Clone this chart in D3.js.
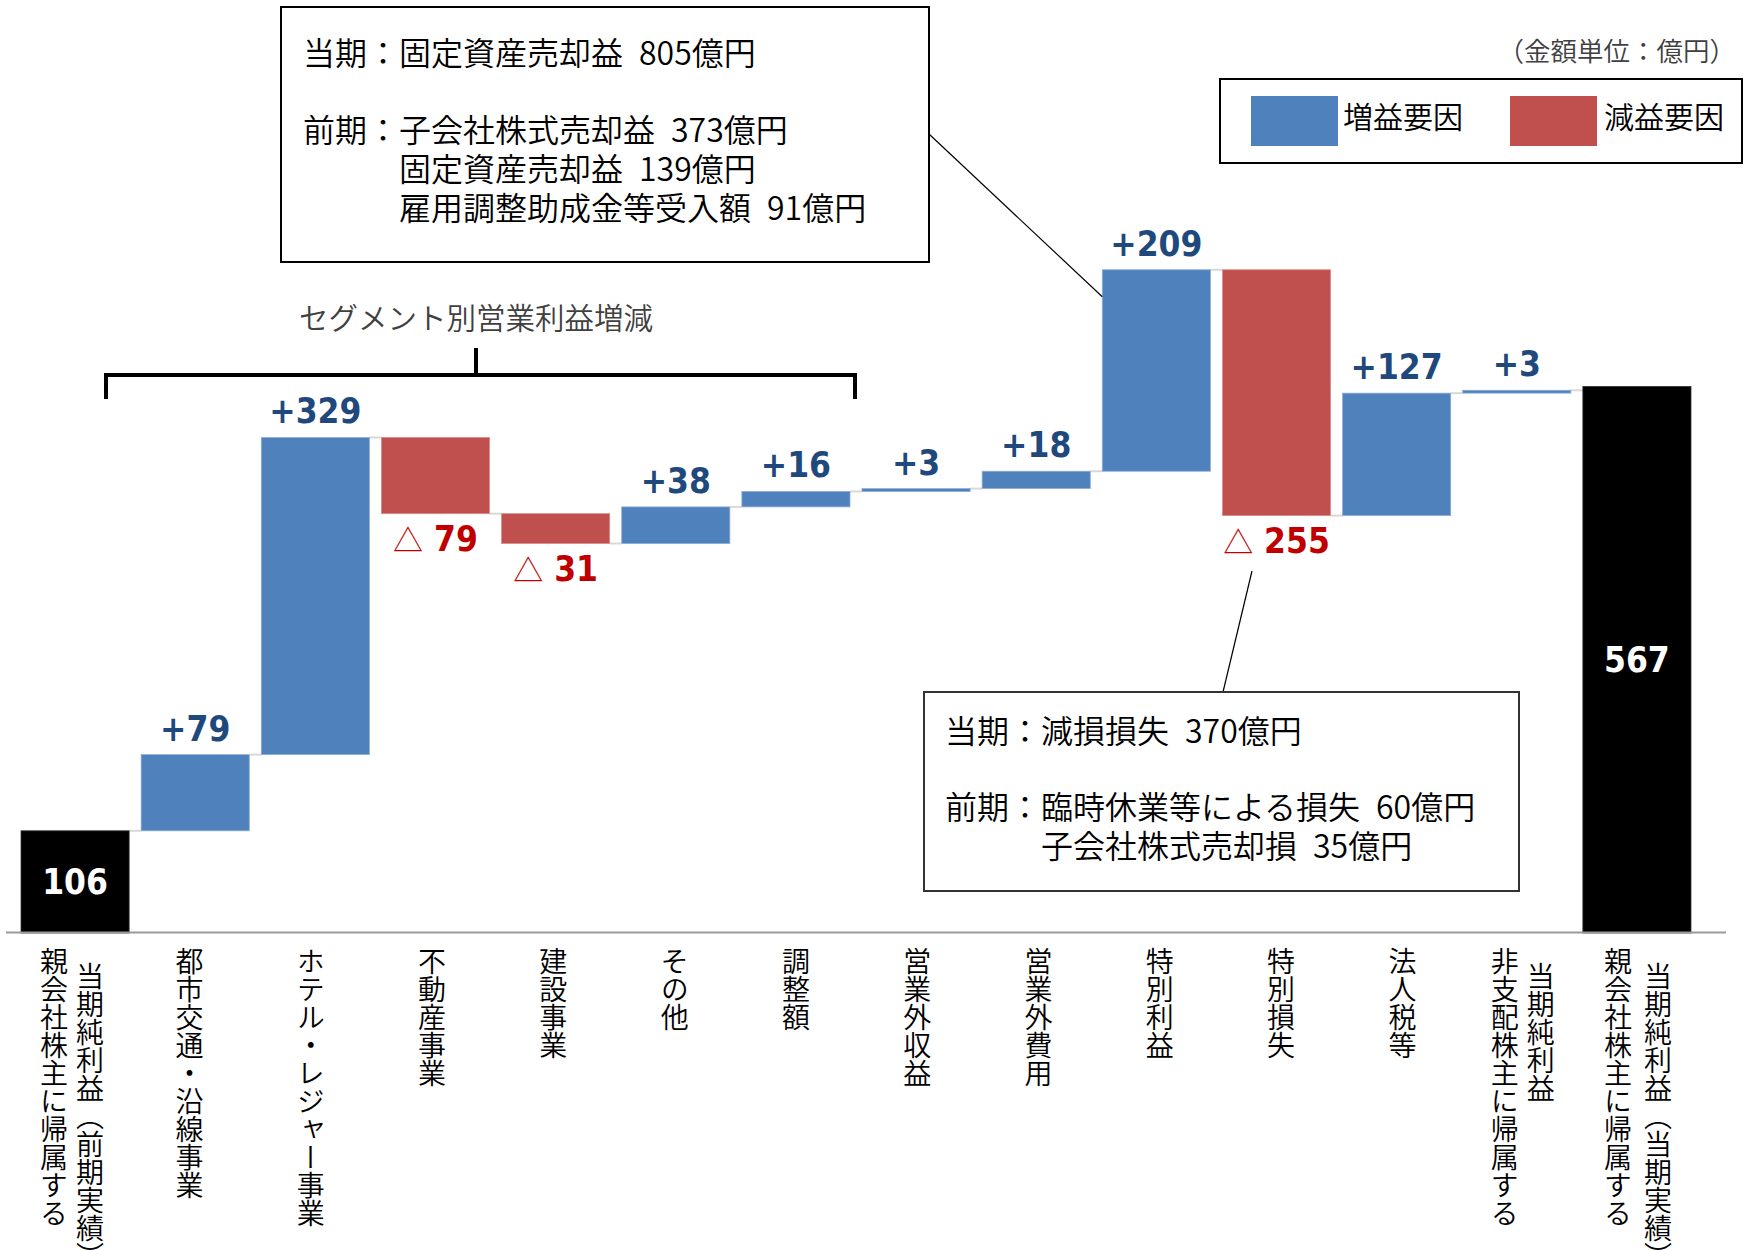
<!DOCTYPE html>
<html><head><meta charset="utf-8">
<script src="https://cdn.jsdelivr.net/npm/d3@7"></script>
<style>html,body{margin:0;padding:0;background:#fff;}svg{display:block;}</style>
</head><body>
<svg id="chart" width="1748" height="1250"></svg>
<script>
// ---- data ----
const categories = [
  "親会社株主に帰属する当期純利益（前期実績）","都市交通・沿線事業","ホテル・レジャー事業","不動産事業",
  "建設事業","その他","調整額","営業外収益","営業外費用","特別利益","特別損失","法人税等",
  "非支配株主に帰属する当期純利益","親会社株主に帰属する当期純利益（当期実績）"
];
const values = [106, 79, 329, -79, -31, 38, 16, 3, 18, 209, -255, 127, 3, 567];
const isTotal = [true,false,false,false,false,false,false,false,false,false,false,false,false,true];
const tickLines = [
  ["当期純利益（前期実績）","親会社株主に帰属する"],
  ["都市交通・沿線事業"],["ホテル・レジャー事業"],["不動産事業"],["建設事業"],["その他"],["調整額"],
  ["営業外収益"],["営業外費用"],["特別利益"],["特別損失"],["法人税等"],
  ["当期純利益","非支配株主に帰属する"],
  ["当期純利益（当期実績）","親会社株主に帰属する"]
];
const legendLabels = ["増益要因","減益要因"];
const unitLabel = "（金額単位：億円）";
const bracketLabel = "セグメント別営業利益増減";
const callout1 = ["当期：固定資産売却益\u2002805億円","前期：子会社株式売却益\u2002373億円","固定資産売却益\u2002139億円","雇用調整助成金等受入額\u200291億円"];
const callout2 = ["当期：減損損失\u2002370億円","前期：臨時休業等による損失\u200260億円","子会社株式売却損\u200235億円"];

// ---- styles ----
const BLUE = "#4F81BD", RED = "#C0504D", BLUE_T = "#1F497D", RED_T = "#C00000";
const JP = "'Noto Sans CJK JP','Noto Sans',sans-serif";
const NUM = "'DejaVu Sans Condensed','DejaVu Sans',sans-serif";
const JPW = 350;

const svg = d3.select("#chart");
svg.append("rect").attr("width",1748).attr("height",1250).attr("fill","#fff");

const x = d3.scaleBand().domain(categories).range([15, 1697]).paddingInner(0.1).paddingOuter(0.05);
const y = d3.scaleLinear().domain([0, 567]).range([933, 386.4]);
const bw = x.bandwidth();

// running totals
let run = 0;
const bars = categories.map((c, i) => {
  let start, end;
  if (isTotal[i]) { start = 0; end = values[i]; }
  else { start = run; end = run + values[i]; }
  run = end;
  return {c, i, v: values[i], start, end, total: isTotal[i]};
});

// connectors
svg.append("g").selectAll("line").data(bars.slice(0, -1)).join("line")
  .attr("x1", d => x(d.c) + bw).attr("x2", d => x(categories[d.i + 1]))
  .attr("y1", d => y(d.end)).attr("y2", d => y(d.end))
  .attr("stroke", "#D9D9D9").attr("stroke-width", 2);

// bars
svg.append("g").selectAll("rect").data(bars).join("rect")
  .attr("x", d => x(d.c)).attr("width", bw)
  .attr("y", d => y(Math.max(d.start, d.end)))
  .attr("height", d => Math.max(1, Math.abs(y(d.start) - y(d.end))))
  .attr("fill", d => d.total ? "#000" : (d.v >= 0 ? BLUE : RED))
  .attr("stroke", d => d.total ? "#333" : (d.v >= 0 ? "#8EADD6" : "#D98C8A"))
  .attr("stroke-width", 0.8);

// baseline
svg.append("line").attr("x1", 6).attr("x2", 1726).attr("y1", y(0) - 0.5).attr("y2", y(0) - 0.5)
  .attr("stroke", "#9A9A9A").attr("stroke-width", 2);

// value labels
const lg = svg.append("g").attr("font-family", NUM).attr("font-weight", "bold").attr("font-size", 35);
bars.forEach(d => {
  const cx = x(d.c) + bw / 2;
  if (d.total) {
    lg.append("text").attr("x", cx).attr("y", (y(0) + y(d.v)) / 2 + 12.5)
      .attr("text-anchor", "middle").attr("fill", "#fff").text(d.v);
  } else if (d.v >= 0) {
    lg.append("text").attr("x", cx).attr("y", y(d.end) - 14)
      .attr("text-anchor", "middle").attr("fill", BLUE_T).text("+" + d.v);
  } else {
    const t = lg.append("text").attr("x", cx).attr("y", y(d.end) + 37)
      .attr("text-anchor", "middle").attr("fill", RED_T);
    t.append("tspan").attr("font-family", JP).attr("font-weight", "normal").attr("font-size", 30).text("△");
    t.append("tspan").text("\u00a0" + Math.abs(d.v));
  }
});

// category labels (vertical)
const tg = svg.append("g").attr("font-family", JP).attr("font-weight", JPW).attr("font-size", 28).attr("fill", "#000");
const twoColShift = {0: -3, 12: 6, 13: 1};
tickLines.forEach((lines, i) => {
  const cx = x(categories[i]) + bw / 2;
  if (lines.length === 1) {
    tg.append("text").attr("writing-mode", "vertical-rl").attr("x", cx + (i - 6) * 1.15).attr("y", 947).text(lines[0]);
  } else {
    const sp = i === 13 ? 20 : 18;
    const c = cx + twoColShift[i];
    tg.append("text").attr("writing-mode", "vertical-rl").attr("x", c + sp).attr("y", 962).text(lines[0]);
    tg.append("text").attr("writing-mode", "vertical-rl").attr("x", c - sp).attr("y", 947).text(lines[1]);
  }
});

// bracket
const bl = x(categories[0]) + 85, br = x(categories[6]) + bw + 5, bs = 476;
svg.append("path").attr("d", `M${bl},399V375H${br}V399M${bs},375V348`)
  .attr("fill", "none").attr("stroke", "#000").attr("stroke-width", 4);
svg.append("text").attr("x", bs).attr("y", 316).attr("dominant-baseline", "central")
  .attr("text-anchor", "middle").attr("font-family", JP).attr("font-weight", JPW).attr("font-size", 29.5).attr("fill", "#404040")
  .text(bracketLabel);

// unit label
svg.append("text").attr("x", 1736).attr("y", 49).attr("dominant-baseline", "central")
  .attr("text-anchor", "end").attr("font-family", JP).attr("font-weight", JPW).attr("font-size", 26.5).attr("fill", "#404040")
  .text(unitLabel);

// legend
svg.append("rect").attr("x", 1220).attr("y", 79).attr("width", 522).attr("height", 84)
  .attr("fill", "#fff").attr("stroke", "#000").attr("stroke-width", 2);
[[1251, BLUE, 1343], [1510, RED, 1604]].forEach((p, k) => {
  svg.append("rect").attr("x", p[0]).attr("y", 96).attr("width", 87).attr("height", 50).attr("fill", p[1]);
  svg.append("text").attr("x", p[2]).attr("y", 114.5).attr("dominant-baseline", "central")
    .attr("font-family", JP).attr("font-weight", JPW).attr("font-size", 30).attr("fill", "#000").text(legendLabels[k]);
});

// callout 1
svg.append("line").attr("x1", 929).attr("y1", 134).attr("x2", x(categories[9])).attr("y2", y(bars[9].end) + 27)
  .attr("stroke", "#000").attr("stroke-width", 1.2);
svg.append("rect").attr("x", 281).attr("y", 7).attr("width", 648).attr("height", 255)
  .attr("fill", "#fff").attr("stroke", "#000").attr("stroke-width", 2);
const c1pos = [[303, 51], [303, 128], [399, 167], [399, 206]];
callout1.forEach((s, k) => {
  svg.append("text").attr("x", c1pos[k][0]).attr("y", c1pos[k][1]).attr("dominant-baseline", "central")
    .attr("font-family", JP).attr("font-weight", JPW).attr("font-size", 32).attr("fill", "#000").text(s);
});

// callout 2
svg.append("line").attr("x1", 1223).attr("y1", 692).attr("x2", 1252).attr("y2", 571)
  .attr("stroke", "#000").attr("stroke-width", 1.2);
svg.append("rect").attr("x", 924).attr("y", 692).attr("width", 595).attr("height", 199)
  .attr("fill", "#fff").attr("stroke", "#333").attr("stroke-width", 2);
const c2pos = [[945, 729], [945, 805], [1041, 844]];
callout2.forEach((s, k) => {
  svg.append("text").attr("x", c2pos[k][0]).attr("y", c2pos[k][1]).attr("dominant-baseline", "central")
    .attr("font-family", JP).attr("font-weight", JPW).attr("font-size", 32).attr("fill", "#000").text(s);
});
</script>
</body></html>
